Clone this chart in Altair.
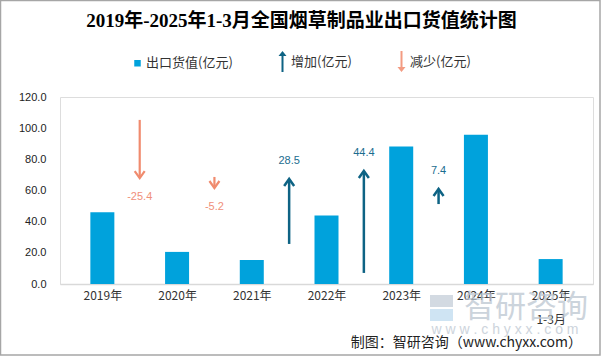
import json
import altair as alt
import pandas as pd

# ---------------- data ----------------
title_text = "2019年-2025年1-3月全国烟草制品业出口货值统计图"
years = ["2019年", "2020年", "2021年", "2022年", "2023年", "2024年", "2025年\n1-3月"]
export_values = [46.0, 20.6, 15.4, 43.9, 88.3, 95.7, 16.0]
changes = [-25.4, -5.2, 28.5, 44.4, 7.4]
arrow_start = [105.3, 68.7, 25.7, 7.1, 51.3]
arrow_end = [68.0, 61.6, 67.4, 72.5, 61.0]
y_ticks = [0, 20, 40, 60, 80, 100, 120]
legend_labels = ["出口货值(亿元)", "增加(亿元)", "减少(亿元)"]

# ---------------- styles ----------------
BAR = "#00a2dc"
UP = "#0e6384"
DOWN = "#f08b6e"
legend_colors = [BAR, UP, "#f39b82"]
legend_shapes = [
    "M-0.65,-0.65L0.65,-0.65L0.65,0.65L-0.65,0.65Z",
    "M-0.2,2.1L0.2,2.1L0.2,-1.1L0.8,-1.1L0,-2.1L-0.8,-1.1L-0.2,-1.1Z",
    "M-0.2,-2.1L0.2,-2.1L0.2,1.1L0.8,1.1L0,2.1L-0.8,1.1L-0.2,1.1Z",
]
CJK = "Noto Sans CJK SC"
NUM = "Liberation Sans, Noto Sans CJK SC"
WM = "#bcc6d1"

bars_df = pd.DataFrame({"idx": list(range(len(years))), "year": years, "value": export_values})
arrows_df = pd.DataFrame({
    "pos": [i + 0.5 for i in range(len(changes))],
    "change": changes,
    "start": arrow_start,
    "end": arrow_end,
    "label": [f"{c:.1f}" for c in changes],
})
legend_df = pd.DataFrame({"series": legend_labels})

labels_js = json.dumps(years, ensure_ascii=False)
x_scale = alt.Scale(domain=[-0.5, len(years) - 0.5], nice=False, zero=False)
y_scale = alt.Scale(domain=[0, 120], nice=False)

x_axis = alt.Axis(
    values=list(range(len(years))),
    labelExpr=f"split({labels_js}[datum.value], '\\n')",
    title=None, ticks=False, grid=False,
    domainColor="#d9d9d9", domainWidth=1.5,
    labelFont=CJK, labelFontSize=12, labelColor="#333333",
    labelPadding=6, labelLineHeight=24, labelOverlap=False,
)
y_axis = alt.Axis(
    values=y_ticks, format=".1f", title=None, ticks=False, grid=False,
    domain=False, labelFont=NUM, labelFontSize=11, labelColor="#222222",
    labelPadding=14, labelOverlap=False,
)

one = alt.Data(values=[{}])

# watermark (decoration)
logo_top = alt.Chart(one).mark_rect(color="#d3dae2").encode(
    x=alt.value(370), x2=alt.value(393), y=alt.value(198), y2=alt.value(210))
logo_bot = alt.Chart(one).mark_rect(color="#cfe4f3").encode(
    x=alt.value(370), x2=alt.value(393), y=alt.value(212), y2=alt.value(224))
watermark = alt.Chart(one).mark_text(
    text="智研咨询", font=CJK, fontSize=31, color=WM, opacity=0.75,
    align="left", baseline="middle",
).encode(x=alt.value(404), y=alt.value(211))
watermark2 = alt.Chart(one).mark_text(
    text="w w w . c h y x x . c o m", font=NUM, fontSize=14, color=WM,
    opacity=0.75, align="center", baseline="middle",
).encode(x=alt.value(445), y=alt.value(233))

bars = alt.Chart(bars_df).mark_bar(size=24, color=BAR).encode(
    x=alt.X("idx:Q", scale=x_scale, axis=x_axis),
    y=alt.Y("value:Q", scale=y_scale, axis=y_axis),
)

up = alt.datum.change > 0
down = alt.datum.change < 0
X = alt.X("pos:Q", scale=x_scale, axis=x_axis)
Y0 = alt.Y("start:Q", scale=y_scale, axis=y_axis)
Y1 = alt.Y("end:Q", scale=y_scale, axis=y_axis)

shaft_up = alt.Chart(arrows_df).transform_filter(up).mark_rule(color=UP, strokeWidth=2.5).encode(
    x=X, y=Y0, y2="end:Q")
shaft_down = alt.Chart(arrows_df).transform_filter(down).mark_rule(color=DOWN, strokeWidth=2.2).encode(
    x=X, y=Y0, y2="end:Q")
head_up = alt.Chart(arrows_df).transform_filter(up).mark_point(
    shape="M-1,1.4L0,0L1,1.4", size=100, filled=False, color=UP, strokeWidth=2.5, opacity=1,
).encode(x=X, y=Y1)
head_down = alt.Chart(arrows_df).transform_filter(down).mark_point(
    shape="M-1,-1.4L0,0L1,-1.4", size=100, filled=False, color=DOWN, strokeWidth=2.2, opacity=1,
).encode(x=X, y=Y1)
text_up = alt.Chart(arrows_df).transform_filter(up).mark_text(
    dy=-18, font=NUM, fontSize=11, color="#1b6d8f", baseline="middle",
).encode(x=X, y=Y1, text="label:N")
text_down = alt.Chart(arrows_df).transform_filter(down).mark_text(
    dy=19, font=NUM, fontSize=11, color="#f0907a", baseline="middle",
).encode(x=X, y=Y1, text="label:N")

legend_props = dict(
    orient="none", legendX=71, legendY=-42, direction="horizontal", title=None,
    symbolSize=100, symbolStrokeWidth=0, labelFont=CJK, labelFontSize=13,
    labelColor="#333333", labelOffset=2, columnPadding=43, padding=0,
)
legend_layer = alt.Chart(legend_df).transform_filter("false").mark_point(filled=True, opacity=1).encode(
    color=alt.Color("series:N", scale=alt.Scale(domain=legend_labels, range=legend_colors),
                    legend=alt.Legend(**legend_props)),
    shape=alt.Shape("series:N", scale=alt.Scale(domain=legend_labels, range=legend_shapes),
                    legend=alt.Legend(**legend_props)),
)

title = alt.Chart(one).mark_text(
    text=title_text, font="Liberation Serif, Noto Sans CJK SC", fontSize=19, fontWeight="bold",
    color="#000000", align="center", baseline="middle",
).encode(x=alt.value(241.5), y=alt.value(-76))

source = alt.Chart(one).mark_text(
    text="制图：智研咨询（www.chyxx.com）", font=CJK, fontSize=14, color="#222222",
    align="right", baseline="middle",
).encode(x=alt.value(522), y=alt.value(246))

frame = alt.Chart(one).mark_rect(fillOpacity=0, stroke="#a6a6a6", strokeWidth=1.5).encode(
    x=alt.value(-59.5), x2=alt.value(540), y=alt.value(-96.5), y2=alt.value(258))

chart = alt.layer(
    logo_top, logo_bot, watermark, watermark2, bars, shaft_up, shaft_down, head_up, head_down,
    text_up, text_down, legend_layer, title, source, frame,
).properties(
    width=533, height=187,
    autosize=alt.AutoSizeParams(type="none"),
    padding={"left": 60, "top": 97, "right": 8, "bottom": 72},
).configure_view(strokeWidth=0).configure_axis(labelOverlap=False).configure(background="white")

chart.save("out.html", embed_options={"renderer": "svg", "actions": False})
